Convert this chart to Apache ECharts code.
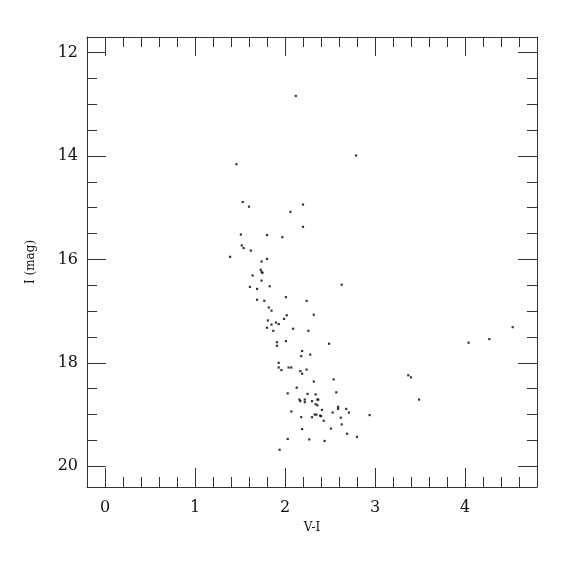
<!DOCTYPE html>
<html>
<head>
<meta charset="utf-8">
<script src="https://cdn.jsdelivr.net/npm/echarts@6/dist/echarts.min.js"></script>
<style>html,body{margin:0;padding:0;background:#fff;}#c{width:575px;height:575px;}</style>
</head>
<body>
<div id="c"></div>
<script>
// V-I colour index
const vi = [2.12,2.79,1.46,1.53,1.60,2.20,2.06,2.20,1.51,1.80,1.97,1.52,1.54,1.62,1.39,1.80,1.74,1.73,1.74,1.75,
  1.64,1.74,2.63,1.61,1.69,1.83,1.69,1.77,2.01,2.24,1.82,1.85,2.32,2.02,1.99,1.81,1.90,1.93,1.85,1.80,
  1.87,2.09,2.26,1.91,1.91,2.01,2.49,2.19,2.18,2.28,1.93,1.93,1.96,2.04,2.07,2.17,2.19,2.24,2.32,2.54,
  2.13,2.57,2.03,2.25,2.34,2.16,2.17,2.22,2.22,2.30,2.36,2.37,2.34,2.36,2.59,2.59,2.68,2.71,2.94,2.41,
  2.53,2.07,2.33,2.35,2.39,2.40,2.30,2.18,2.43,2.62,2.63,2.51,2.19,2.69,2.80,2.03,2.27,2.44,1.94,
  4.53,4.27,4.04,3.37,3.40,3.49];
// I magnitude
const imag = [12.84,13.99,14.16,14.89,14.98,14.94,15.08,15.37,15.52,15.53,15.57,15.73,15.78,15.83,15.95,15.99,16.04,16.20,16.24,16.26,
  16.31,16.41,16.49,16.53,16.57,16.52,16.78,16.80,16.73,16.80,16.93,16.99,17.07,17.08,17.15,17.18,17.22,17.25,17.26,17.32,
  17.38,17.34,17.38,17.60,17.67,17.58,17.63,17.77,17.87,17.84,18.00,18.09,18.14,18.09,18.09,18.16,18.21,18.13,18.36,18.32,
  18.48,18.57,18.59,18.60,18.61,18.71,18.74,18.71,18.76,18.74,18.71,18.71,18.80,18.82,18.85,18.89,18.89,18.96,19.01,18.91,
  18.96,18.94,19.00,19.00,19.02,19.03,19.05,19.05,19.12,19.06,19.19,19.27,19.28,19.37,19.43,19.47,19.48,19.51,19.68,
  17.31,17.54,17.61,18.24,18.28,18.71];

const xMajor = [0, 1, 2, 3, 4];
const xMinor = [0.2,0.4,0.6,0.8,1.2,1.4,1.6,1.8,2.2,2.4,2.6,2.8,3.2,3.4,3.6,3.8,4.2,4.4,4.6];
const yMajor = [12, 14, 16, 18, 20];
const yMinor = [12.5,13,13.5,14.5,15,15.5,16.5,17,17.5,18.5,19,19.5];

const FONT = 'DejaVu Serif';
const INK = '#333';
const XMIN = -0.2, XMAX = 4.8, YMIN = 11.7, YMAX = 20.4;

function xAx(pos, vals, len, label, line) {
  return {
    type: 'value', position: pos, min: XMIN, max: XMAX,
    axisLine: {show: line, onZero: false, lineStyle: {color: INK, width: 1}},
    axisTick: {show: true, inside: true, length: len, customValues: vals, lineStyle: {color: INK, width: 1}},
    axisLabel: {show: label, customValues: vals, color: '#111', fontFamily: FONT, fontSize: 16, margin: 13},
    splitLine: {show: false},
    name: label ? 'V-I' : '', nameLocation: 'middle', nameGap: 35,
    nameTextStyle: {fontFamily: FONT, fontSize: 12, color: '#111'}
  };
}
function yAx(pos, vals, len, label, line) {
  return {
    type: 'value', position: pos, min: YMIN, max: YMAX, inverse: true,
    axisLine: {show: line, onZero: false, lineStyle: {color: INK, width: 1}},
    axisTick: {show: true, inside: true, length: len, customValues: vals, lineStyle: {color: INK, width: 1}},
    axisLabel: {show: label, customValues: vals, color: '#111', fontFamily: FONT, fontSize: 16, margin: 9},
    splitLine: {show: false},
    name: label ? 'I (mag)' : '', nameLocation: 'middle', nameGap: 50, nameRotate: 90,
    nameTextStyle: {fontFamily: FONT, fontSize: 12, color: '#111'}
  };
}

const chart = echarts.init(document.getElementById('c'), null, {renderer: 'canvas'});
chart.setOption({
  backgroundColor: '#fff',
  animation: false,
  grid: {left: 87, right: 38, top: 37, bottom: 88, containLabel: false},
  xAxis: [
    xAx('bottom', xMajor, 19, true, true),
    xAx('bottom', xMinor, 10, false, false),
    xAx('top', xMajor, 19, false, true),
    xAx('top', xMinor, 10, false, false)
  ],
  yAxis: [
    yAx('left', yMajor, 19, true, true),
    yAx('left', yMinor, 10, false, false),
    yAx('right', yMajor, 19, false, true),
    yAx('right', yMinor, 10, false, false)
  ],
  series: [{
    type: 'scatter',
    xAxisIndex: 0, yAxisIndex: 0,
    data: vi.map((v, i) => [v, imag[i]]),
    symbol: 'rect',
    symbolSize: 2.2,
    itemStyle: {color: '#000'}
  }]
});
</script>
</body>
</html>
